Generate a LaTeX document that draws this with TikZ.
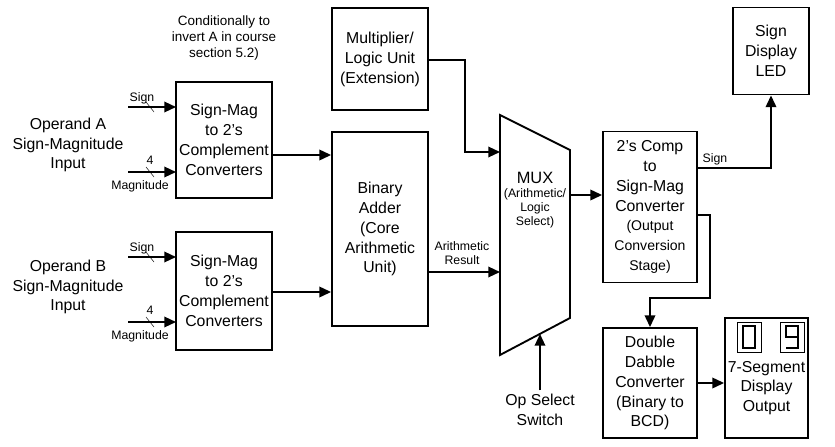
\documentclass[tikz,border=0pt]{standalone}
\usepackage{fontspec}
\setmainfont{Liberation Sans}
\usetikzlibrary{arrows.meta}
\tikzset{
  blk/.style={draw, line width=1.6pt, align=center, inner sep=0pt, font=\fontsize{13.5}{17}\selectfont},
  lbl/.style={align=center, font=\fontsize{10.5}{12}\selectfont},
  big/.style={align=center, font=\fontsize{13.5}{16.5}\selectfont},
  wire/.style={line width=1.5pt, -{Triangle[length=10pt,width=9pt]}},
  seg/.style={line width=1.6pt}
}
\newcommand{\busmark}[1]{\draw[thin] ($(#1)+(-4,-5)$) -- ($(#1)+(4,5)$);}
\usetikzlibrary{calc}
\begin{document}
\begin{tikzpicture}[x=0.03cm, y=-0.03cm]
	\useasboundingbox (0,0) rectangle (835,447);
	% blocks
	\node[blk] (smA) at (224,140) [minimum width=2.88cm, minimum height=3.48cm] {Sign-Mag\\to 2's\\Complement\\Converters};
	\node[blk] (smB) at (224,291) [minimum width=2.88cm, minimum height=3.54cm] {Sign-Mag\\to 2's\\Complement\\Converters};
	\node[blk] (add) at (380,229) [minimum width=2.88cm, minimum height=5.82cm] {Binary\\Adder\\(Core\\Arithmetic\\Unit)};
	\node[blk] (mul) at (380,59) [minimum width=2.88cm, minimum height=3.06cm] {Multiplier/\\Logic Unit\\(Extension)};
	\node[blk] (conv) at (650,207) [minimum width=2.82cm, minimum height=4.53cm] {2's Comp\\to\\Sign-Mag\\Converter\\{\fontsize{12}{14.5}\selectfont (Output}\\{\fontsize{12}{14.5}\selectfont Conversion}\\{\fontsize{12}{14.5}\selectfont Stage)}};
	\node[blk] (led) at (771,51) [minimum width=2.28cm, minimum height=2.61cm] {Sign\\Display\\LED};
	\node[blk] (dd) at (650,383) [minimum width=2.82cm, minimum height=3.3cm] {Double\\Dabble\\Converter\\(Binary to\\BCD)};
	\node[blk] (seg) at (766.5,378) [minimum width=2.49cm, minimum height=3.6cm] {};
	\node[big] (segt) at (766.5,388) {7-Segment\\Display\\Output};
	% mux
	\draw[line width=1.6pt] (500,115) coordinate (mtl) -- (570,150) coordinate (mtr) -- (570,318) coordinate (mbr) -- (500,355) coordinate (mbl) -- cycle;
	\node[lbl] (mux) at (535,200) {{\fontsize{14}{17}\selectfont MUX}\\(Arithmetic/\\Logic\\Select)};
	% texts
	\node[big] (opA) at (68,145) {Operand A\\Sign-Magnitude\\Input};
	\node[big] (opB) at (68,287) {Operand B\\Sign-Magnitude\\Input};
	\node[lbl, font=\fontsize{11.5}{14}\selectfont] (note) at (224,38) {Conditionally to\\invert A in course\\section 5.2)};
	\node[big] (ops) at (540,410) {Op Select\\Switch};
	% inputs
	\foreach \y/\n in {107/sa, 172/ma, 257/sb, 322/mb}{
		\coordinate (\n) at (128,\y);
		\draw[wire] (\n) -- (176,\y);
		\busmark{150,\y}
	}
	\node[lbl] (sal) at (142,98) {Sign};
	\node[lbl] (sbl) at (142,248) {Sign};
	\node[lbl] (fa) at (150,160) {4};
	\node[lbl] (fb) at (150,310) {4};
	\node[lbl] (mal) at (140,186) {Magnitude};
	\node[lbl] (mbl2) at (140,336) {Magnitude};
	% connectors
	\draw[wire] (smA.east |- 0,155) -- (add.west |- 0,155);
	\draw[wire] (smB.east |- 0,292) -- (add.west |- 0,292);
	\draw[wire] (add.east |- 0,272) -- (500,272);
	\node[lbl] (ar) at (462,253) {Arithmetic\\Result};
	\draw[wire] (mul.east |- 0,60) -| (465,152) -- (500,152);
	\draw[wire] (ops.north) -- (540,334);
	\draw[wire] (570,195) -- (conv.west |- 0,195);
	\draw[wire] (conv.east |- 0,168) -| (led.south);
	\node[lbl] (sg) at (715,159) {Sign};
	\draw[wire] (conv.east |- 0,215) -- (710,215) |- (650,298) -- (dd.north);
	\draw[wire] (dd.east) -- (seg.west |- dd.east);
	% 7-segment digits
	\draw[thin] (737,322) rectangle (761,352);
	\draw[thin] (780,322) rectangle (804,352);
	\draw[seg] (743,326) rectangle (755,348);
	\draw[seg] (798,337) -- (798,326) -- (786,326) -- (786,337) -- (798,337) -- (798,348) -- (786,348);
\end{tikzpicture}
\end{document}
